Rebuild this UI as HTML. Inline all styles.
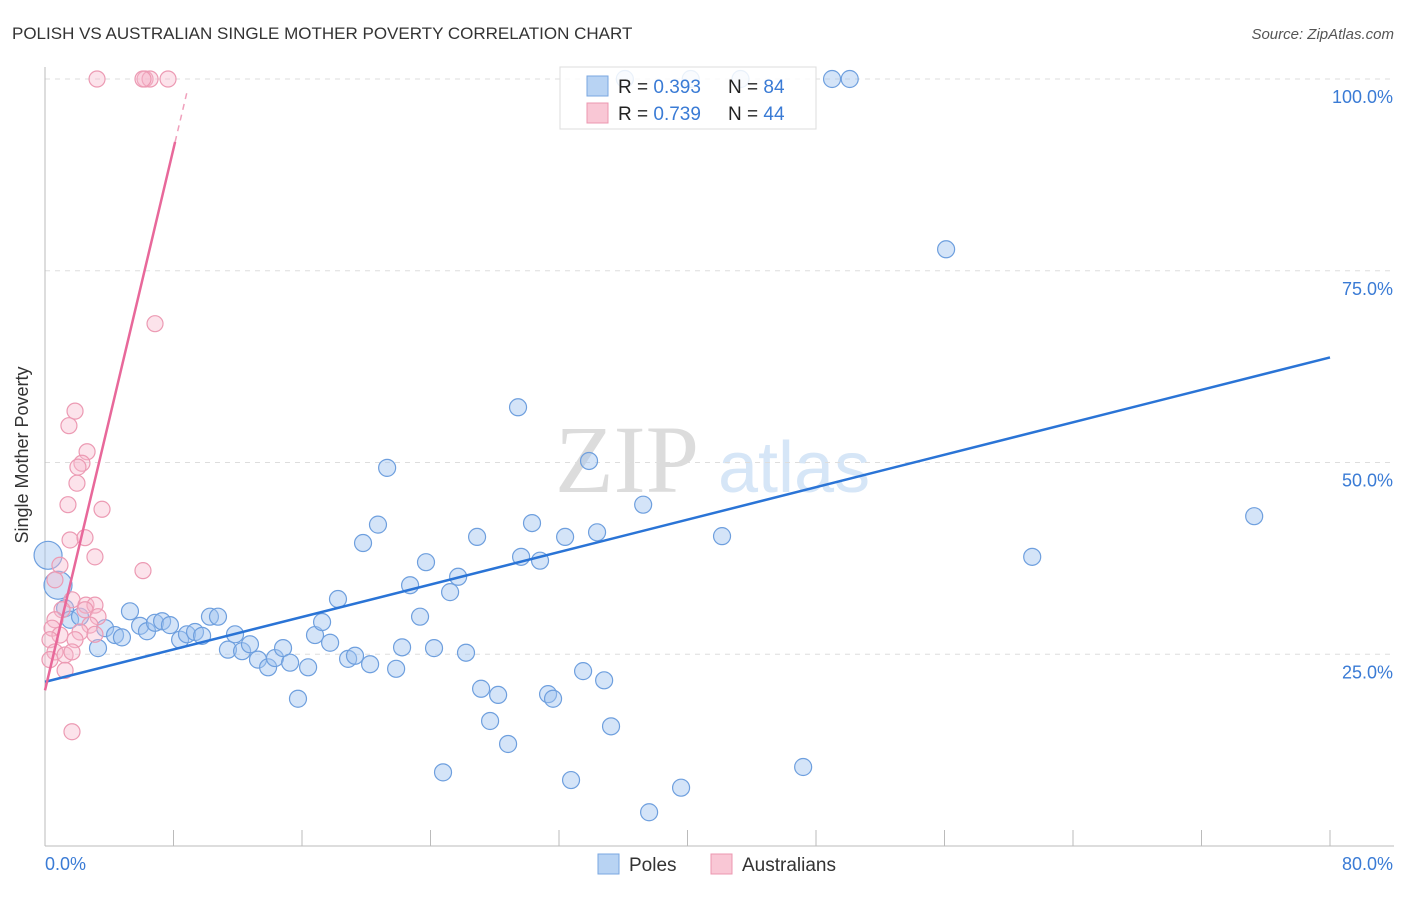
<!DOCTYPE html>
<html><head><meta charset="utf-8"><style>
body{margin:0;background:#fff;font-family:"Liberation Sans",sans-serif}
svg text{font-family:"Liberation Sans",sans-serif}
</style></head><body>
<svg width="1406" height="892" xmlns="http://www.w3.org/2000/svg">
<text x="12" y="39" font-size="17" fill="#333">POLISH VS AUSTRALIAN SINGLE MOTHER POVERTY CORRELATION CHART</text>
<text x="1394" y="39" font-size="15" fill="#555" text-anchor="end" font-style="italic">Source: ZipAtlas.com</text>
<text x="555" y="492" font-size="96" fill="#dcdcdc" style="font-family:'Liberation Serif',serif">ZIP</text>
<text x="718" y="492" font-size="72" fill="#d6e6f7">atlas</text>
<g id="grid"></g>
<line x1="45" y1="67" x2="45" y2="846" stroke="#bbb"/>
<line x1="45" y1="846" x2="1394" y2="846" stroke="#bbb"/>
<text x="28" y="455" font-size="18" fill="#333" text-anchor="middle" transform="rotate(-90 28 455)">Single Mother Poverty</text>
<text x="45" y="870" font-size="18" fill="#3a7bd5">0.0%</text>
<text x="1393" y="870" font-size="18" fill="#3a7bd5" text-anchor="end">80.0%</text>
<g id="pts"></g>
<g id="lines"></g>
<g>
<rect x="560" y="67" width="256" height="62" fill="rgba(255,255,255,0.85)" stroke="#ddd"/>
<rect x="587" y="76" width="21" height="20" fill="#b8d3f3" stroke="#7aa7e0"/>
<rect x="587" y="103" width="21" height="20" fill="#f9c7d5" stroke="#ec97b0"/>
<text x="618" y="93" font-size="19" fill="#222">R = <tspan fill="#3a7bd5">0.393</tspan></text>
<text x="728" y="93" font-size="19" fill="#222">N = <tspan fill="#3a7bd5">84</tspan></text>
<text x="618" y="120" font-size="19" fill="#222">R = <tspan fill="#3a7bd5">0.739</tspan></text>
<text x="728" y="120" font-size="19" fill="#222">N = <tspan fill="#3a7bd5">44</tspan></text>
</g>
<g>
<rect x="598" y="854" width="21" height="20" fill="#b8d3f3" stroke="#7aa7e0"/>
<text x="629" y="871" font-size="19" fill="#333">Poles</text>
<rect x="711" y="854" width="21" height="20" fill="#f9c7d5" stroke="#ec97b0"/>
<text x="742" y="871" font-size="19" fill="#333">Australians</text>
</g>
</svg>
<script>
const yTicks=[25,50,75,100];
const yTickLabels=["25.0%","50.0%","75.0%","100.0%"];
const xTicks=[0,8,16,24,32,40,48,56,64,72,80];
const polesX=[0.19,0.81,1.25,1.56,2.18,3.30,3.74,4.36,4.79,5.29,5.92,6.35,6.85,7.29,7.78,8.41,8.84,9.34,9.78,10.27,10.77,11.39,11.83,12.27,12.76,13.26,13.89,14.32,14.82,15.26,15.75,16.38,16.81,17.25,17.75,18.24,18.87,19.30,19.80,20.24,20.73,21.30,21.86,22.23,22.73,23.35,23.72,24.22,24.78,25.22,25.72,26.21,26.90,27.15,27.71,28.21,28.83,29.45,29.64,30.32,30.82,31.32,31.63,32.38,32.75,33.50,33.87,34.37,34.81,35.24,37.24,37.61,39.60,42.15,47.20,56.10,61.46,75.28,36.1,40.2,43.3,49.0,50.1];
const polesY=[37.9,34.0,31.0,29.5,29.9,25.8,28.4,27.5,27.2,30.6,28.7,28.0,29.1,29.3,28.8,26.9,27.6,27.9,27.4,29.9,29.9,25.6,27.6,25.4,26.3,24.3,23.3,24.5,25.8,23.9,19.2,23.3,27.5,29.2,26.5,32.2,24.4,24.8,39.5,23.7,41.9,49.3,23.1,25.9,34.0,29.9,37.0,25.8,9.6,33.1,35.1,25.2,40.3,20.5,16.3,19.7,13.3,57.2,37.7,42.1,37.2,19.8,19.2,40.3,8.6,22.8,50.2,40.9,21.6,15.6,44.5,4.4,7.6,40.4,10.3,77.8,37.7,43.0,100,100,100,100,100];
const polesR=[14,14];
const ausX=[3.24,6.23,6.54,6.10,7.66,6.85,1.87,1.49,2.62,2.30,2.05,1.99,1.43,3.55,1.56,2.49,3.11,6.10,0.93,0.62,1.68,2.55,3.11,1.06,2.49,3.30,0.62,2.80,0.44,2.18,3.11,0.93,0.31,1.87,0.62,1.25,0.31,1.68,1.25,1.68];
const ausY=[100,100,100,100,100,68.1,56.7,54.8,51.4,49.9,49.4,47.3,44.5,43.9,39.9,40.2,37.7,35.9,36.6,34.7,32.1,31.4,31.4,30.8,30.8,29.9,29.5,28.8,28.4,27.9,27.6,27.5,26.9,26.9,25.3,24.9,24.3,25.3,22.9,14.9];
const polesTrend=[21.4,63.7];
const ausTrend=[20.3,91.8,98.3];
const ausTrendX=[0,8.1,8.84];
const sx=v=>45+v*(1285/80), sy=v=>846-v*7.67;
const NS="http://www.w3.org/2000/svg";
function mk(t,a,p){const e=document.createElementNS(NS,t);for(const k in a)e.setAttribute(k,a[k]);p.appendChild(e);return e;}
const grid=document.getElementById('grid');
yTicks.forEach((t,i)=>{
 const l=mk('line',{x1:45,x2:1394,y1:sy(t),y2:sy(t),stroke:'#ddd','stroke-dasharray':'5,5'},grid);
 
 
 const tx=mk('text',{x:1393,y:sy(t)+24,'font-size':18,fill:'#3a7bd5','text-anchor':'end'},grid);
 tx.textContent=yTickLabels[i];
 
 
});
xTicks.forEach(t=>{
 const l=mk('line',{x1:sx(t),x2:sx(t),y1:830,y2:846,stroke:'#bbb'},grid);
 
 
});
const pts=document.getElementById('pts');
polesX.forEach((x,i)=>{
 const c=mk('circle',{cx:sx(x),cy:sy(polesY[i]),r:polesR[i]||8.5,fill:'rgba(160,196,240,0.45)',stroke:'#6e9fde','stroke-width':1.2},pts);
 
 
});
ausX.forEach((x,i)=>{
 const c=mk('circle',{cx:sx(x),cy:sy(ausY[i]),r:8,fill:'rgba(248,186,204,0.4)',stroke:'#ec9ab3','stroke-width':1.2},pts);
 
 
});
const lines=document.getElementById('lines');
const bl=mk('line',{x1:sx(0),y1:sy(polesTrend[0]),x2:sx(80),y2:sy(polesTrend[1]),stroke:'#2a74d6','stroke-width':2.5},lines);


const pl=mk('line',{x1:sx(ausTrendX[0]),y1:sy(ausTrend[0]),x2:sx(ausTrendX[1]),y2:sy(ausTrend[1]),stroke:'#e8689a','stroke-width':2.5},lines);


const pd=mk('line',{x1:sx(ausTrendX[1]),y1:sy(ausTrend[1]),x2:sx(ausTrendX[2]),y2:sy(ausTrend[2]),stroke:'#f0a0bc','stroke-width':1.5,'stroke-dasharray':'6,5'},lines);


</script>
</body></html>
